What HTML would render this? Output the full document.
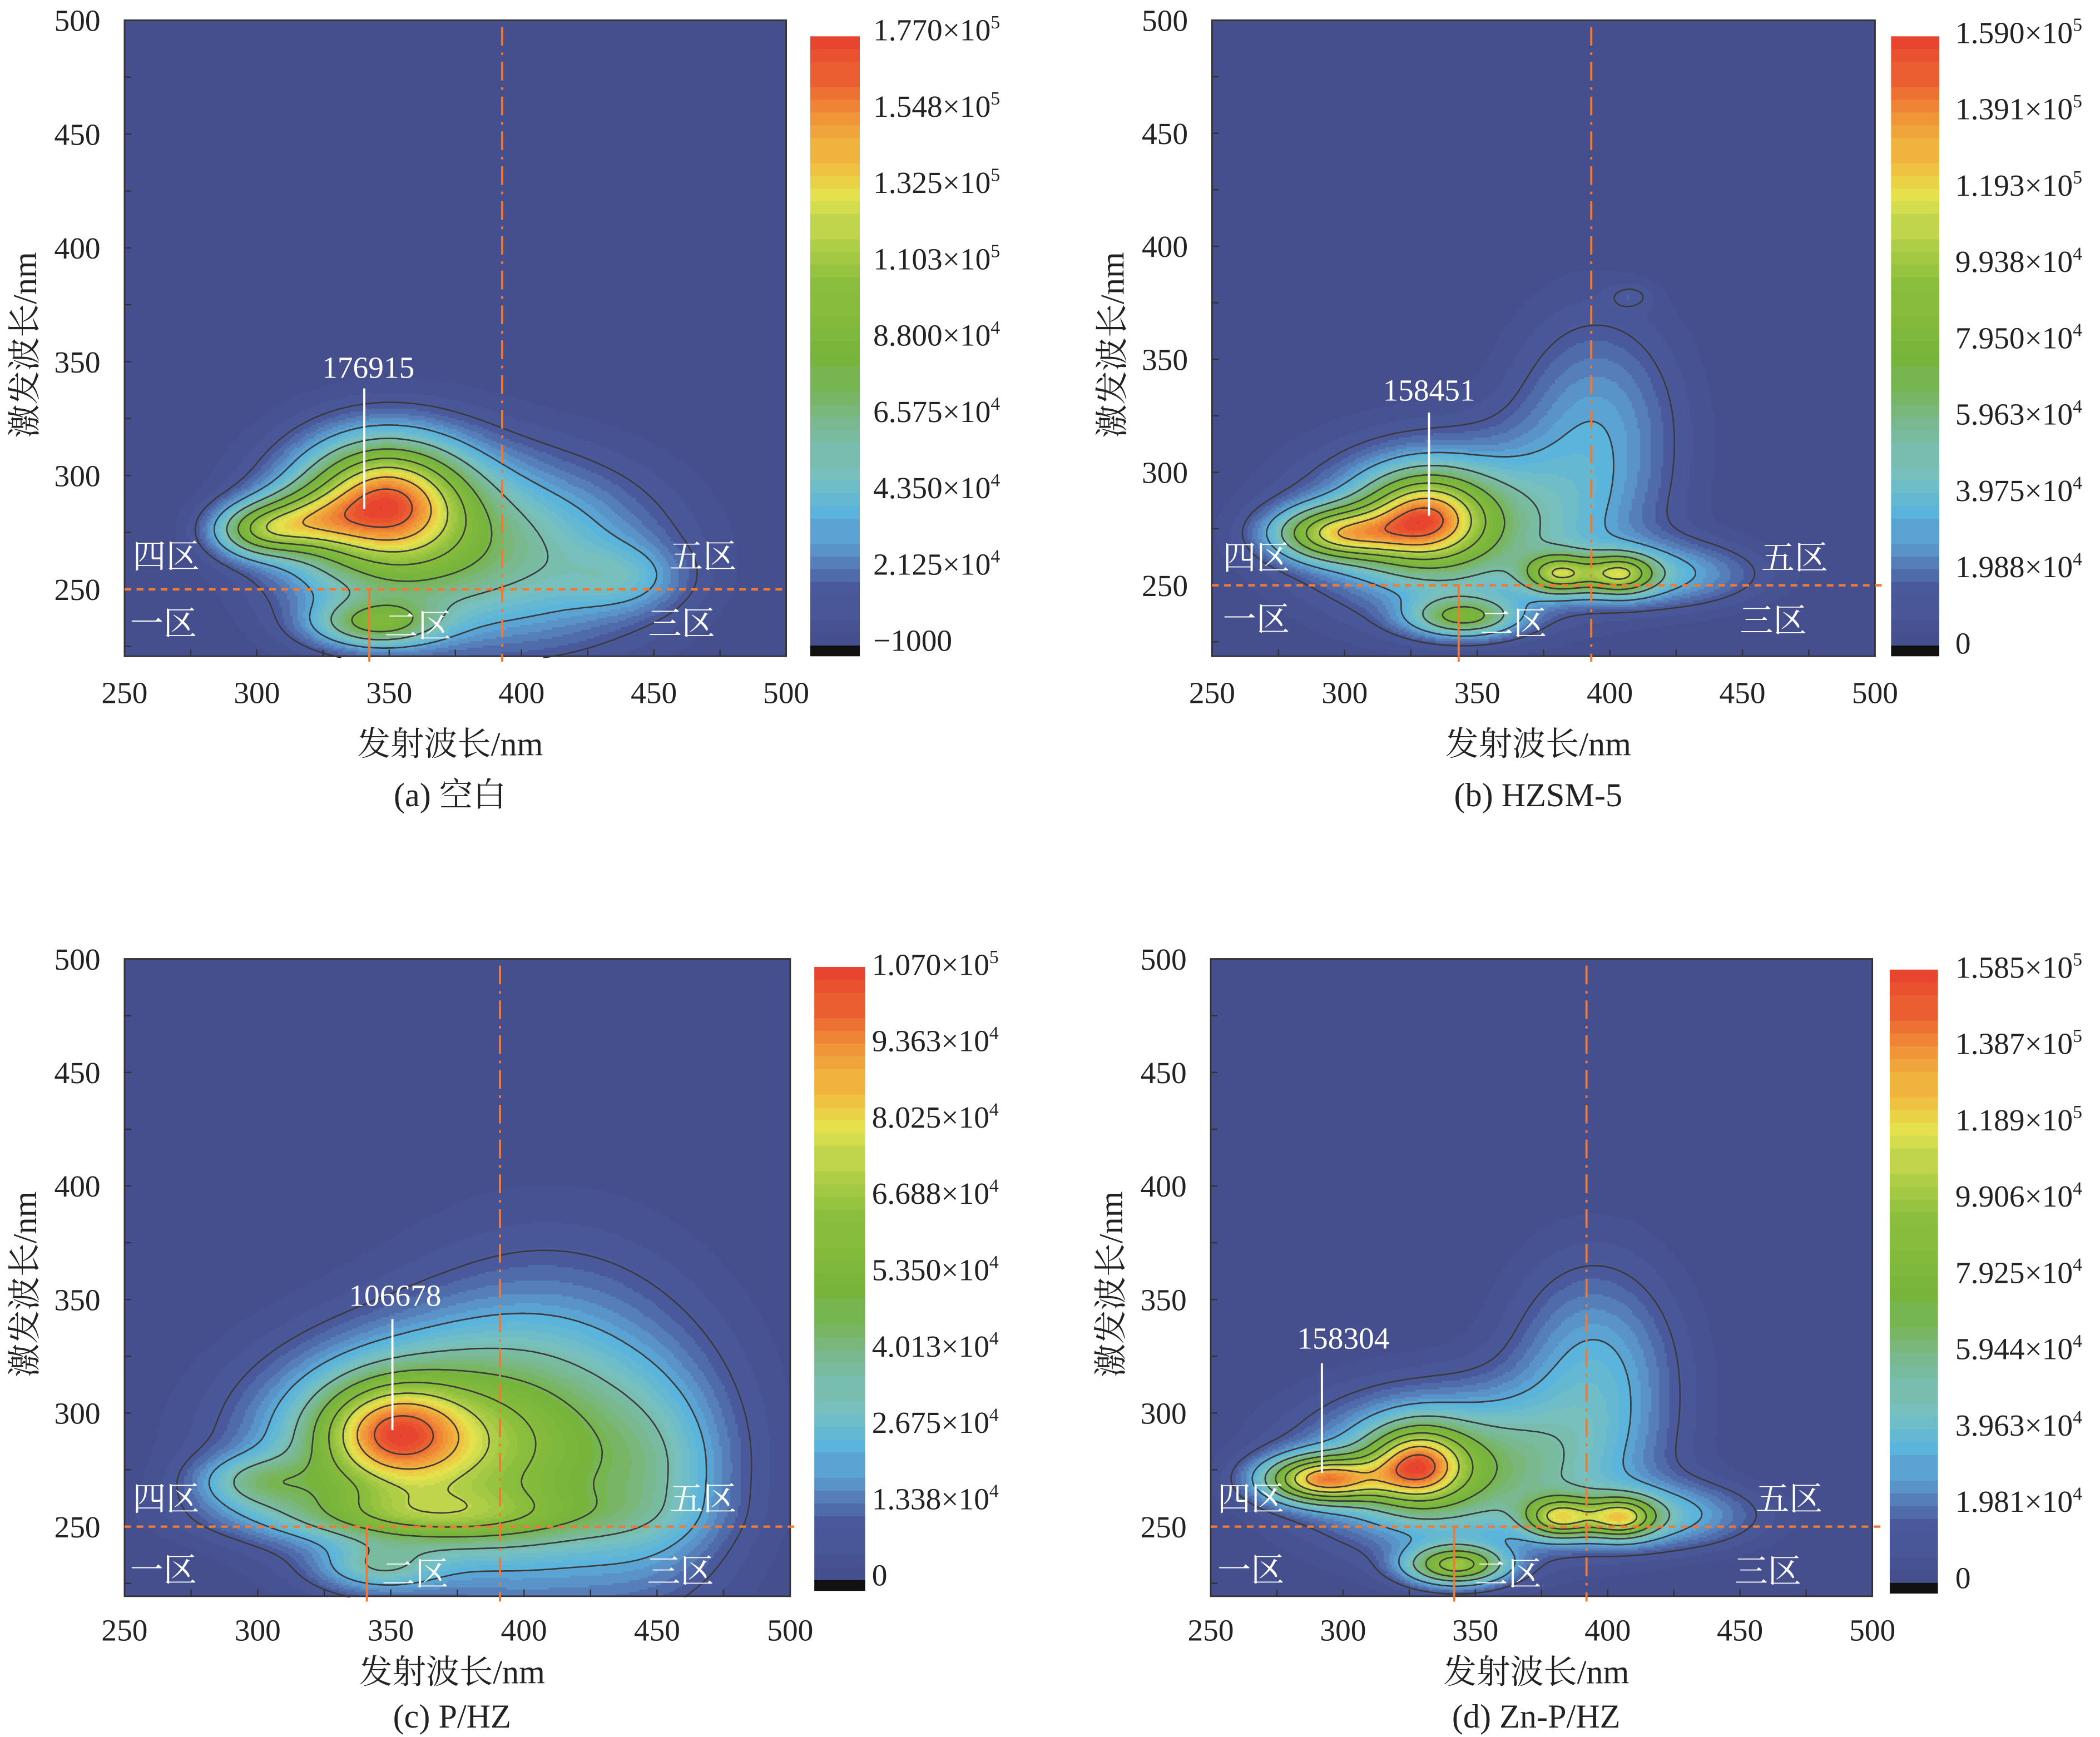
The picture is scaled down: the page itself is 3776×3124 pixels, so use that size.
<!DOCTYPE html>
<html><head><meta charset="utf-8">
<style>
html,body{margin:0;padding:0;background:#fff;}
#root{position:relative;width:3776px;height:3124px;overflow:hidden;background:#fff;}
canvas{position:absolute;}
svg{position:absolute;left:0;top:0;}
text{font-family:"Liberation Serif","Noto Serif CJK SC","Noto Sans CJK SC",serif;}
</style></head>
<body>
<div id="root">
<svg id="ov" width="3776" height="3124" viewBox="0 0 1568 1297"></svg>
</div>
<script>
// ---- Data: fluorescence peaks (emission nm, excitation nm, relative amplitude, widths) ----
const aEm=[348,318,300,345,350,405,440], aEx=[290,280,276,235,275,265,255], aAmp=[0.55,0.3,0.35,0.32,0.38,0.25,0.12], aSx=[20,14,12,16,30,35,15], aSy=[17,9,8,7,28,28,10];
const bEm=[330,297,381,404,345,340,395,420,408], bEx=[280,273,255,255,236,275,320,255,378], bAmp=[0.55,0.55,0.45,0.45,0.38,0.4,0.18,0.2,0.06], bSx=[15,16,9,9,14,35,22,25,6], bSy=[13,8,6,6,6,24,35,10,4];
const cEm=[350,360,410,300,360,345,450], cEx=[292,285,290,270,255,232,270], cAmp=[0.45,0.5,0.3,0.25,0.25,0.2,0.15], cSx=[18,40,40,16,45,15,20], cSy=[15,30,50,8,8,7,30];
const dEm=[292,328,382,405,343,340,395,420], dEx=[271,277,254,254,233,275,315,255], dAmp=[0.65,0.5,0.45,0.45,0.5,0.4,0.2,0.2], dSx=[15,12,9,9,13,35,22,25], dSy=[7,11,6,6,6,22,35,10];
const peakLabels=["176915","158451","106678","158304"];
const cbLabelsA=["1.770×10^5","1.548×10^5","1.325×10^5","1.103×10^5","8.800×10^4","6.575×10^4","4.350×10^4","2.125×10^4","−1000"];
const cbLabelsB=["1.590×10^5","1.391×10^5","1.193×10^5","9.938×10^4","7.950×10^4","5.963×10^4","3.975×10^4","1.988×10^4","0"];
const cbLabelsC=["1.070×10^5","9.363×10^4","8.025×10^4","6.688×10^4","5.350×10^4","4.013×10^4","2.675×10^4","1.338×10^4","0"];
const cbLabelsD=["1.585×10^5","1.387×10^5","1.189×10^5","9.906×10^4","7.925×10^4","5.944×10^4","3.963×10^4","1.981×10^4","0"];
const captions=["(a) 空白","(b) HZSM-5","(c) P/HZ","(d) Zn-P/HZ"];
const xTicks=[250,300,350,400,450,500], yTicks=[250,300,350,400,450,500];
const zoneNames=["四区","五区","一区","二区","三区"];

const S=3776/1568;
const NS="http://www.w3.org/2000/svg";
const ov=document.getElementById('ov');
function el(tag,attrs,parent){const e=document.createElementNS(NS,tag);for(const k in attrs)e.setAttribute(k,attrs[k]);(parent||ov).appendChild(e);return e;}

const stops=[[0,'#464f8e'],[0.08,'#4a5a9c'],[0.14,'#5a8cc4'],[0.2,'#5ab4dc'],[0.27,'#78c0c0'],[0.35,'#7ab890'],[0.45,'#76b43c'],[0.58,'#8cbe3c'],[0.66,'#b4d04a'],[0.72,'#e4e44e'],[0.78,'#f0c040'],[0.86,'#f09038'],[0.93,'#ea5a30'],[1,'#e63a2e']];
function hex(h){return [parseInt(h.substr(1,2),16),parseInt(h.substr(3,2),16),parseInt(h.substr(5,2),16)];}
function cmap(t){t=Math.max(0,Math.min(1,t));t=Math.floor(t*40)/40;
 for(let i=1;i<stops.length;i++){if(t<=stops[i][0]){const a=hex(stops[i-1][1]),b=hex(stops[i][1]);const f=(t-stops[i-1][0])/(stops[i][0]-stops[i-1][0]);return `rgb(${Math.round(a[0]+(b[0]-a[0])*f)},${Math.round(a[1]+(b[1]-a[1])*f)},${Math.round(a[2]+(b[2]-a[2])*f)})`;}}
 return stops[stops.length-1][1];}

const panels=[
 {id:'a',x0:93,x1:587,y0:15,y1:490,y250:440,cb:[605,642,27,490],cbx:652,cbl:cbLabelsA,cbt:22,em:aEm,ex:aEx,amp:aAmp,sx:aSx,sy:aSy,vx:392.7,sx2:342.5,lx:[124,525,122,312,509],ly:[415,415,465,467,465],lab:[275,274,272,290,380],titleY:555,capY:593,tickY:517,hEnd:587},
 {id:'b',x0:905,x1:1400,y0:15,y1:490,y250:437,cb:[1412,1448,27,490],cbx:1460,cbl:cbLabelsB,cbt:24,em:bEm,ex:bEx,amp:bAmp,sx:bSx,sy:bSy,vx:393,sx2:343,lx:[938,1340,938,1130,1324],ly:[416,416,462,465,463],lab:[1067,291,1067,308,385],titleY:555,capY:593,tickY:517,hEnd:1408},
 {id:'c',x0:93,x1:590,y0:716,y1:1192,y250:1140,cb:[608,646,722,1188],cbx:651,cbl:cbLabelsC,cbt:720,em:cEm,ex:cEx,amp:cAmp,sx:cSx,sy:cSy,vx:391,sx2:341,lx:[124,525,122,310,508],ly:[1119,1119,1172,1175,1173],lab:[295,967,293,985,1068],titleY:1248,capY:1281,tickY:1217,hEnd:596},
 {id:'d',x0:904,x1:1398,y0:716,y1:1192,y250:1140,cb:[1411,1447,724,1190],cbx:1460,cbl:cbLabelsD,cbt:722,em:dEm,ex:dEx,amp:dAmp,sx:dSx,sy:dSy,vx:392,sx2:342,lx:[934,1336,934,1126,1320],ly:[1119,1119,1172,1175,1173],lab:[1003,999,987,1018,1100],titleY:1248,capY:1281,tickY:1217,hEnd:1406}
];

panels.forEach((p,pi)=>{
 const kx=(p.x1-p.x0)/250, ky=(p.y250-p.y0)/250;
 const X=e=>p.x0+(e-250)*kx, Y=g=>p.y250-(g-250)*ky;
 const exMin=250-(p.y1-p.y250)/ky;
 const g0=Math.floor(exMin);
 const NE=251, NG=500-g0+1; const V=[]; let mx=0;
 for(let j=0;j<NG;j++){const row=[];const g=g0+j;for(let i=0;i<NE;i++){const e=250+i;let v=0;
   for(let k=0;k<p.em.length;k++){const dx=(e-p.em[k])/p.sx[k],dy=(g-p.ex[k])/p.sy[k];v+=p.amp[k]*Math.exp(-0.5*(dx*dx+dy*dy));}
   row.push(v);if(v>mx)mx=v;}V.push(row);}
 const cv=document.createElement('canvas');
 
 
 const W=Math.round((p.x1-p.x0)*S),H=Math.round((p.y1-p.y0)*S);
 cv.width=W;cv.height=H;cv.style.left=Math.round(p.x0*S)+'px';cv.style.top=Math.round(p.y0*S)+'px';
 const ctx=cv.getContext('2d');ctx.fillStyle=cmap(0);ctx.fillRect(0,0,W,H);
 for(let j=0;j<NG;j++)for(let i=0;i<NE;i++){
   const cxp=(X(250+i-0.5)-p.x0)*S, cyp=(Y(g0+j+0.5)-p.y0)*S;
   ctx.fillStyle=cmap(V[j][i]/mx);ctx.fillRect(Math.floor(cxp),Math.floor(cyp),Math.ceil(kx*S)+1,Math.ceil(ky*S)+1);}
 document.getElementById('root').insertBefore(cv,ov);
 const levels=[0.08,0.2,0.32,0.44,0.56,0.68,0.8,0.92];
 const g=el('g',{fill:'none',stroke:'#3a3a3a','stroke-width':1.1});
 levels.forEach(lf=>{const L=lf*mx;let d='';
  for(let j=0;j<NG-1;j++)for(let i=0;i<NE-1;i++){
   const v00=V[j][i],v10=V[j][i+1],v01=V[j+1][i],v11=V[j+1][i+1];
   const pts=[];
   const ed=(va,vb,ea,ga,eb,gb)=>{if((va>=L)!==(vb>=L)){const f=(L-va)/(vb-va);pts.push([X(ea+(eb-ea)*f),Y(ga+(gb-ga)*f)]);}};
   const e=250+i,gg=g0+j;
   ed(v00,v10,e,gg,e+1,gg);ed(v10,v11,e+1,gg,e+1,gg+1);ed(v11,v01,e+1,gg+1,e,gg+1);ed(v01,v00,e,gg+1,e,gg);
   if(pts.length>=2)d+=`M${pts[0][0].toFixed(1)} ${pts[0][1].toFixed(1)}L${pts[1][0].toFixed(1)} ${pts[1][1].toFixed(1)}`;
   if(pts.length===4)d+=`M${pts[2][0].toFixed(1)} ${pts[2][1].toFixed(1)}L${pts[3][0].toFixed(1)} ${pts[3][1].toFixed(1)}`;}
  const pth=el('path',{d:d},g);
  
  
 });
 el('rect',{x:p.x0,y:p.y0,width:p.x1-p.x0,height:p.y1-p.y0,fill:'none',stroke:'#333','stroke-width':1.2,});
 for(let e=275;e<500;e+=25)el('line',{x1:X(e),x2:X(e),y1:p.y1,y2:p.y1-5,stroke:'#333','stroke-width':1,});
 for(let v=225;v<500;v+=25)el('line',{x1:p.x0,x2:p.x0+5,y1:Y(v),y2:Y(v),stroke:'#333','stroke-width':1,});
 xTicks.forEach(t=>{const tx=el('text',{x:X(t),y:p.tickY+8,'font-size':23,'text-anchor':'middle',fill:'#222',});tx.textContent=t;});
 yTicks.forEach(t=>{const tx=el('text',{x:p.x0-18,y:Y(t)+8,'font-size':23,'text-anchor':'end',fill:'#222',});tx.textContent=t;});
 const xt=el('text',{x:(p.x0+p.x1)/2-4,y:p.titleY+9,'font-size':25,'text-anchor':'middle',fill:'#222',});xt.textContent='发射波长/nm';
 const ycx=p.x0-66, ycy=(p.y0+p.y1)/2+5;
 const yt=el('text',{x:ycx,y:ycy,'font-size':25,'text-anchor':'middle',fill:'#222',transform:`rotate(-90 ${ycx} ${ycy})`,});yt.textContent='激发波长/nm';
 const cp=el('text',{x:(p.x0+p.x1)/2-4,y:p.capY+9,'font-size':25,'text-anchor':'middle',fill:'#222',});cp.textContent=captions[pi];
 el('line',{x1:X(p.vx),x2:X(p.vx),y1:p.y0+5,y2:p.y1+4,stroke:'#ee7a35','stroke-width':1.6,'stroke-dasharray':'14 5 2 5',});
 el('line',{x1:p.x0,x2:p.hEnd,y1:Y(250),y2:Y(250),stroke:'#ee7a35','stroke-width':1.8,'stroke-dasharray':'5 4',});
 el('line',{x1:X(p.sx2),x2:X(p.sx2),y1:Y(250),y2:p.y1+4,stroke:'#ee7a35','stroke-width':1.6,});
 zoneNames.forEach((z,k)=>{const t=el('text',{x:p.lx[k],y:p.ly[k]+9,'font-size':25,'text-anchor':'middle',fill:'#fff',});t.textContent=z;});
 const pl=el('text',{x:p.lab[0],y:p.lab[1]+8,'font-size':23,'text-anchor':'middle',fill:'#fff',});pl.textContent=peakLabels[pi];
 el('line',{x1:p.lab[2],x2:p.lab[2],y1:p.lab[3],y2:p.lab[4],stroke:'#fff','stroke-width':1.6,});
 const [cx0,cx1,cy0,cy1]=p.cb;const nb=48;const bh=(cy1-8-cy0)/nb;
 const cbg=el('g',{});
 for(let k=0;k<nb;k++){el('rect',{x:cx0,y:cy0+k*bh,width:cx1-cx0,height:bh+0.6,fill:cmap(1-(k+0.5)/nb)},cbg);}
 el('rect',{x:cx0,y:cy1-8,width:cx1-cx0,height:8,fill:'#111'},cbg);
 const ly0=p.cbt, ly1=p.cbt+456;
 p.cbl.forEach((s,k)=>{const y=ly0+k*(ly1-ly0)/8;const t=el('text',{x:p.cbx,y:y+8,'font-size':23,fill:'#222',});
   const parts=s.split('^');t.textContent=parts[0];
   if(parts[1]){const sp=el('tspan',{dy:-9,'font-size':14},t);sp.textContent=parts[1];}});
});
</script>
</body></html>
